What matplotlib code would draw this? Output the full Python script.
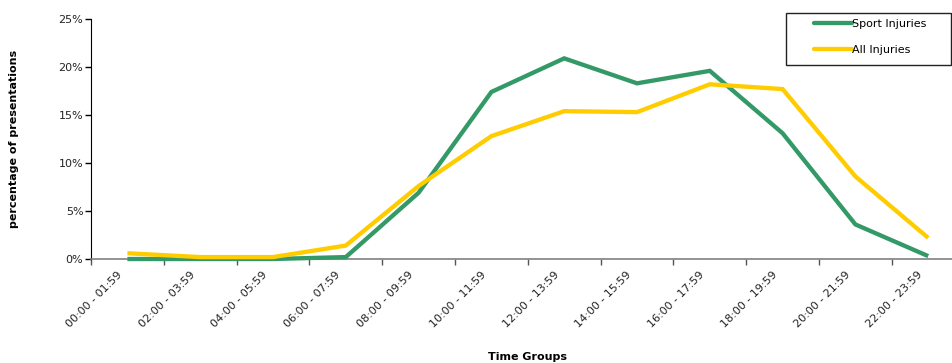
import matplotlib
matplotlib.use("Agg")
import matplotlib.pyplot as plt
import matplotlib.transforms as mtransforms
from matplotlib.patches import Rectangle
from matplotlib.ticker import FixedLocator, PercentFormatter

# Two-hour time groups across the day
time_groups = [
    "00:00 - 01:59", "02:00 - 03:59", "04:00 - 05:59", "06:00 - 07:59",
    "08:00 - 09:59", "10:00 - 11:59", "12:00 - 13:59", "14:00 - 15:59",
    "16:00 - 17:59", "18:00 - 19:59", "20:00 - 21:59", "22:00 - 23:59",
]

# Share of presentations (%) in each time group
sport_injuries = [0.0, 0.0, 0.0, 0.2, 6.9, 17.4, 20.9, 18.3, 19.6, 13.1, 3.6, 0.3]
all_injuries = [0.6, 0.2, 0.2, 1.4, 7.6, 12.8, 15.4, 15.3, 18.2, 17.7, 8.6, 2.2]

series_names = ["Sport Injuries", "All Injuries"]
series_colors = ["#339966", "#FFCC00"]

W, H = 953, 363
fig = plt.figure(figsize=(W / 100, H / 100), dpi=100)
plt.rcParams["font.family"] = ["DejaVu Sans"]

# Plot area; the category axis runs slightly past the right edge of the canvas
left, bottom, top = 91, 259, 19
width = 12 * 72.8
ax = fig.add_axes([left / W, (H - bottom) / H, width / W, (bottom - top) / H])

x = list(range(len(time_groups)))
for vals, name, col in zip([sport_injuries, all_injuries], series_names, series_colors):
    ax.plot(x, vals, color=col, lw=3.1, solid_capstyle="butt",
            solid_joinstyle="miter", label=name, clip_on=False, zorder=3)

ax.set_xlim(-0.5, len(time_groups) - 0.5)
ax.set_ylim(0, 25)
ax.set_yticks([0, 5, 10, 15, 20, 25])
ax.yaxis.set_major_formatter(PercentFormatter(decimals=0))

# Category labels centred on groups, tick marks on group boundaries
ax.set_xticks(x)
ax.set_xticklabels(time_groups, rotation=45, ha="right", va="center",
                   rotation_mode="anchor", fontsize=8, color="#222222")
ax.xaxis.set_minor_locator(FixedLocator([i - 0.5 for i in range(len(time_groups) + 1)]))
ax.tick_params(axis="x", which="major", length=0, pad=10)
ax.tick_params(axis="x", which="minor", length=4, width=1, color="#555555")
ax.tick_params(axis="y", length=4, width=1, pad=1.5, labelsize=8,
               labelcolor="#222222")
shift = mtransforms.ScaledTranslation(-7 / 100, 0, fig.dpi_scale_trans)
for lab in ax.get_xticklabels():
    lab.set_transform(lab.get_transform() + shift)

for s in ("top", "right"):
    ax.spines[s].set_visible(False)
ax.spines["left"].set_color("black")
ax.spines["bottom"].set_color("#808080")
ax.spines["bottom"].set_linewidth(1.2)

ax.set_xlabel("Time Groups", fontsize=8, fontweight="bold")
ax.xaxis.set_label_coords(0.5, -0.407)
ax.xaxis.label.set_va("center")
ax.set_ylabel("percentage of presentations", fontsize=8, fontweight="bold")
ax.yaxis.set_label_coords(-0.088, 0.5)
ax.yaxis.label.set_va("center")

# Legend entries with a separate rectangular frame
leg = ax.legend(loc="upper left", bbox_to_anchor=(814 / W, 1 - 19 / H),
                bbox_transform=fig.transFigure, frameon=False, fontsize=8,
                handlelength=3.4, handletextpad=0.05, borderpad=0,
                borderaxespad=0, labelspacing=1.45)
for line in leg.get_lines():
    line.set_linewidth(3.1)
    line.set_solid_capstyle("round")
fig.add_artist(Rectangle((786 / W, 1 - 65 / H), (951 - 786) / W, (65 - 13) / H,
                         transform=fig.transFigure, fill=False,
                         edgecolor="#222222", linewidth=1.0))

fig.savefig("out.png", dpi=100)
